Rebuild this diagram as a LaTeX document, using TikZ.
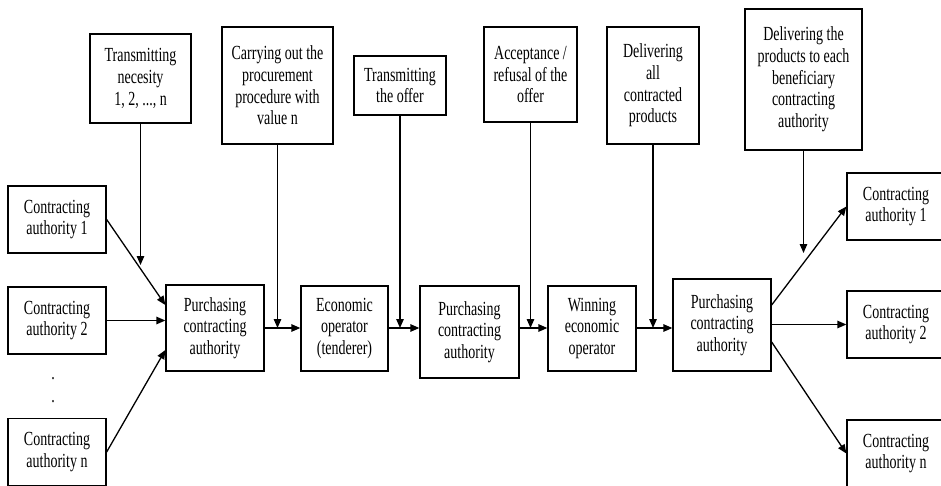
\documentclass[tikz,border=0pt]{standalone}
\usepackage{fontspec}
\setmainfont[FakeStretch=0.7]{Liberation Serif}
\usetikzlibrary{arrows.meta,calc}
\begin{document}
\begin{tikzpicture}[x=1pt,y=-1pt,
  box/.style={draw,line width=1.3pt,rectangle,inner sep=0pt,align=center,
              font=\fontsize{20}{21.7}\selectfont},
  link/.style={line width=1.3pt,-{Triangle[length=9pt,width=7.5pt]}},
  dotmark/.style={inner sep=0pt,anchor=base,font=\fontsize{20}{21.7}\selectfont}]
\useasboundingbox (0,0) rectangle (941,486);

% contracting authorities on the left
\node[box,minimum width=98pt,minimum height=67pt] (caL1) at (57,219.5) {Contracting\\authority 1};
\node[box,minimum width=98pt,minimum height=67pt] (caL2) at (57,320.5) {Contracting\\authority 2};
\node[box,minimum width=98pt,minimum height=67pt] (caLn) at (57,452) {Contracting\\authority n};
\node[dotmark] (dotA) at (53,379) {.};
\node[dotmark] (dotB) at (53,402) {.};

% main chain
\node[box,minimum width=98pt,minimum height=86pt] (P1) at (215,328) {Purchasing\\contracting\\authority};
\node[box,minimum width=87pt,minimum height=85pt] (EO) at (344.5,328.5) {Economic\\operator\\(tenderer)};
\node[box,minimum width=99pt,minimum height=92pt] (P2) at (469.5,332) {Purchasing\\contracting\\authority};
\node[box,minimum width=88pt,minimum height=85pt] (WEO) at (592,328.5) {Winning\\economic\\operator};
\node[box,minimum width=98pt,minimum height=92pt] (P3) at (722,325) {Purchasing\\contracting\\authority};

% contracting authorities on the right
\node[box,minimum width=98pt,minimum height=67pt] (caR1) at (896,206.5) {Contracting\\authority 1};
\node[box,minimum width=98pt,minimum height=67pt] (caR2) at (896,324.5) {Contracting\\authority 2};
\node[box,minimum width=98pt,minimum height=67pt] (caRn) at (896,453.5) {Contracting\\authority n};

% activity boxes above
\node[box,minimum width=101pt,minimum height=89pt] (T1) at (140.5,78.5) {Transmitting\\necesity\\1, 2, ..., n};
\node[box,minimum width=111pt,minimum height=117pt] (T2) at (277.5,85.5) {Carrying out the\\procurement\\procedure with\\value n};
\node[box,minimum width=92pt,minimum height=59pt] (T3) at (400,85.5) {Transmitting\\the offer};
\node[box,minimum width=93pt,minimum height=95pt] (T4) at (530.5,74.5) {Acceptance /\\refusal of the\\offer};
\node[box,minimum width=92pt,minimum height=117pt] (T5) at (653,85.5) {Delivering\\all\\contracted\\products};
\node[box,minimum width=117pt,minimum height=141pt] (T6) at (803.5,79.5) {Delivering the\\products to each\\beneficiary\\contracting\\authority};

\coordinate (row) at (0,328);
\coordinate (t1end) at (0,265);
\coordinate (t6end) at (0,253);

% inputs to the first purchasing authority
\draw[link] (caL1.east) -- ($(P1.west)+(0,-23)$);
\draw[link] (caL2.east) -- (caL2.east -| P1.west);
\draw[link] (caLn.east) -- ($(P1.west)+(0,22)$);

% main chain arrows
\draw[link] (P1.east |- row) -- (EO.west |- row);
\draw[link] (EO.east |- row) -- (P2.west |- row);
\draw[link] (P2.east |- row) -- (WEO.west |- row);
\draw[link] (WEO.east |- row) -- (P3.west |- row);

% outputs to the beneficiaries
\draw[link] ($(P3.east)+(0,-20)$) -- (caR1.west);
\draw[link] (P3.east |- caR2.west) -- (caR2.west);
\draw[link] ($(P3.east)+(0,17)$) -- (caRn.west);

% activity arrows
\draw[link] (T1.south) -- (T1.south |- t1end);
\draw[link] (T2.south) -- (T2.south |- row);
\draw[link] (T3.south) -- (T3.south |- row);
\draw[link] (T4.south) -- (T4.south |- row);
\draw[link] (T5.south) -- (T5.south |- row);
\draw[link] (T6.south) -- (T6.south |- t6end);
\end{tikzpicture}
\end{document}
